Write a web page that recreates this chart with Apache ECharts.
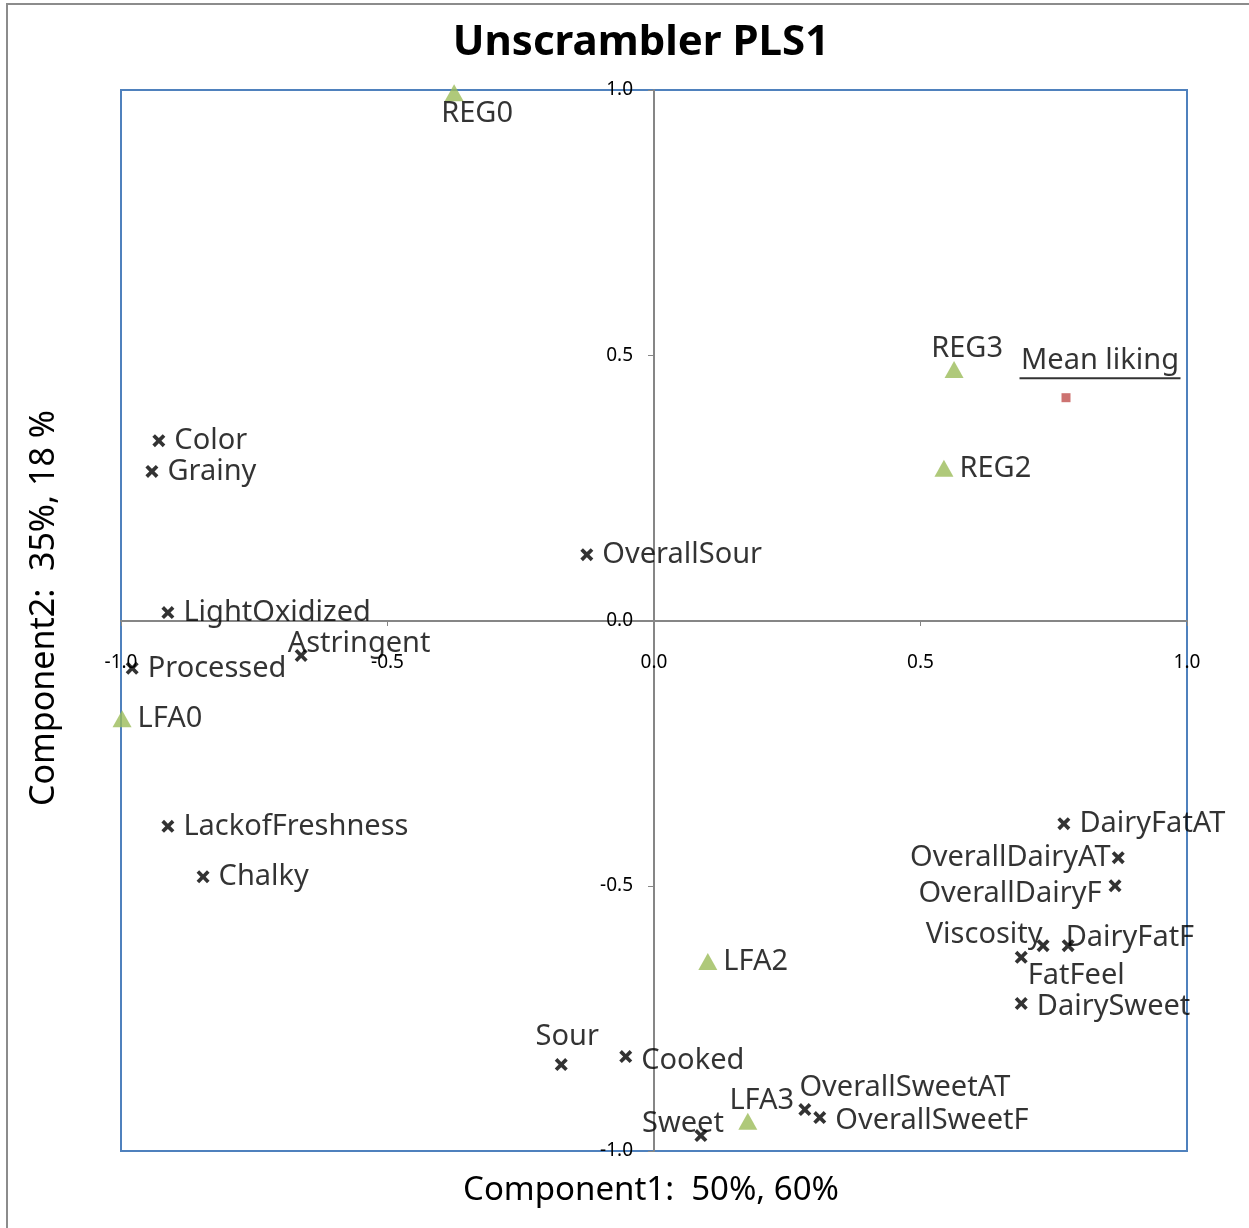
<!DOCTYPE html>
<html>
<head>
<meta charset="utf-8">
<script src="https://cdn.jsdelivr.net/npm/echarts@6/dist/echarts.min.js"></script>
<style>
  html, body { margin: 0; padding: 0; background: #fff; }
  #main { width: 1249px; height: 1228px; }
</style>
</head>
<body>
<div id="main"></div>
<script>
// attribute loadings (x markers)
const attrNames = ['Color', 'Grainy', 'OverallSour', 'LightOxidized', 'Astringent', 'Processed',
  'LackofFreshness', 'Chalky', 'DairyFatAT', 'OverallDairyAT', 'OverallDairyF', 'Viscosity',
  'DairyFatF', 'FatFeel', 'DairySweet', 'Sour', 'Cooked', 'Sweet', 'OverallSweetAT', 'OverallSweetF'];
const attrX = [-0.929, -0.942, -0.126, -0.912, -0.662, -0.979, -0.912, -0.846, 0.769, 0.871,
  0.865, 0.730, 0.777, 0.689, 0.689, -0.174, -0.053, 0.088, 0.283, 0.311];
const attrY = [0.339, 0.281, 0.124, 0.015, -0.066, -0.090, -0.388, -0.483, -0.383, -0.447,
  -0.500, -0.613, -0.613, -0.635, -0.722, -0.837, -0.822, -0.971, -0.922, -0.937];

// samples (triangles)
const sampleNames = ['REG0', 'REG3', 'REG2', 'LFA0', 'LFA2', 'LFA3'];
const sampleX = [-0.375, 0.563, 0.544, -0.998, 0.101, 0.176];
const sampleY = [0.995, 0.473, 0.287, -0.185, -0.643, -0.944];

// response
const respNames = ['Mean liking'];
const respX = [0.773];
const respY = [0.420];

// where each label sits relative to its marker
const labelPlace = {
  Astringent: { position: 'right', offset: [-29, -12] },
  OverallDairyAT: { position: 'left', offset: [8, 0] },
  OverallDairyF: { position: 'left', offset: [2, 8] },
  Viscosity: { position: 'left', offset: [15, -11] },
  DairyFatF: { position: 'right', offset: [-18, -8] },
  FatFeel: { position: 'right', offset: [-9, 18] },
  Sour: { position: 'top', offset: [6, 2] },
  Cooked: { position: 'right', offset: [0, 4] },
  Sweet: { position: 'top', offset: [-18, 18] },
  OverallSweetAT: { position: 'top', offset: [100, 8] },
  OverallSweetF: { position: 'right', offset: [0, 3] },
  REG0: { position: 'bottom', offset: [23, -8] },
  REG3: { position: 'top', offset: [13, 8] },
  LFA3: { position: 'top', offset: [14, 8] },
  DairySweet: { position: 'right', offset: [0, 3] },
  'Mean liking': { position: 'top', offset: [34, -8] }
};

const FONT = '"Noto Sans", "Open Sans", sans-serif';
const crossPath = 'path://M2,0L5,3L8,0L10,2L7,5L10,8L8,10L5,7L2,10L0,8L3,5L0,2Z';

const build = (names, xs, ys) => names.map((n, i) => {
  const item = { name: n, value: [xs[i], ys[i]] };
  if (labelPlace[n]) item.label = labelPlace[n];
  return item;
});

const baseLabel = {
  show: true,
  position: 'right',
  distance: 9,
  formatter: p => p.name,
  color: '#000',
  fontFamily: FONT,
  fontSize: 29
};

const chart = echarts.init(document.getElementById('main'), null, { renderer: 'canvas' });

chart.setOption({
  backgroundColor: '#fff',
  animation: false,
  graphic: [
    { type: 'rect', shape: { x: 7, y: 4, width: 1400, height: 1400 },
      style: { fill: 'none', stroke: '#8c8c8c', lineWidth: 2 }, silent: true, z: -1 },
    { type: 'text', x: 641, y: 43,
      style: { text: 'Unscrambler PLS1', font: 'bold 42px ' + FONT, fill: '#000',
        align: 'center', verticalAlign: 'middle' } },
    { type: 'text', x: 651, y: 1191,
      style: { text: 'Component1:  50%, 60%', font: '33px ' + FONT, fill: '#000',
        align: 'center', verticalAlign: 'middle' } },
    { type: 'text', x: 44, y: 608, rotation: Math.PI / 2,
      style: { text: 'Component2:  35%, 18 %', font: '34px ' + FONT, fill: '#000',
        align: 'center', verticalAlign: 'middle' } }
  ],
  grid: {
    left: 121, right: 62, top: 90, bottom: 77,
    show: true, borderColor: '#4f81bd', borderWidth: 2, backgroundColor: 'transparent'
  },
  xAxis: {
    type: 'value', min: -1, max: 1, interval: 0.5,
    offset: -530,
    axisLine: { onZero: false, lineStyle: { color: '#868686', width: 2 } },
    axisTick: { show: true, length: 5, lineStyle: { color: '#868686' } },
    splitLine: { show: false },
    axisLabel: { margin: 32, color: '#000', fontFamily: FONT, fontSize: 19,
      formatter: v => v.toFixed(1) }
  },
  yAxis: {
    type: 'value', min: -1, max: 1, interval: 0.5,
    offset: -533,
    axisLine: { onZero: false, lineStyle: { color: '#868686', width: 2 } },
    axisTick: { show: true, length: 6, lineStyle: { color: '#868686' } },
    splitLine: { show: false },
    axisLabel: { margin: 21, color: '#000', fontFamily: FONT, fontSize: 19,
      formatter: v => v.toFixed(1) }
  },
  series: [
    {
      name: 'Attributes',
      type: 'scatter',
      symbol: crossPath,
      symbolSize: 13,
      itemStyle: { color: '#000' },
      label: baseLabel,
      data: build(attrNames, attrX, attrY)
    },
    {
      name: 'Samples',
      type: 'scatter',
      symbol: 'triangle',
      symbolSize: [19, 17],
      itemStyle: { color: '#9bbb59' },
      label: Object.assign({}, baseLabel, { distance: 6 }),
      data: build(sampleNames, sampleX, sampleY)
    },
    {
      name: 'Response',
      type: 'scatter',
      symbol: 'rect',
      symbolSize: 9,
      itemStyle: { color: '#c0504d' },
      label: Object.assign({}, baseLabel, {
        distance: 5,
        formatter: p => '{t|' + p.name + '}\n{u| }',
        rich: {
          t: { fontFamily: FONT, fontSize: 29, color: '#000', lineHeight: 30 },
          u: { width: 161, height: 2, lineHeight: 4, backgroundColor: '#000' }
        }
      }),
      data: build(respNames, respX, respY)
    }
  ]
});

window.onresize = () => chart.resize();
</script>
</body>
</html>
